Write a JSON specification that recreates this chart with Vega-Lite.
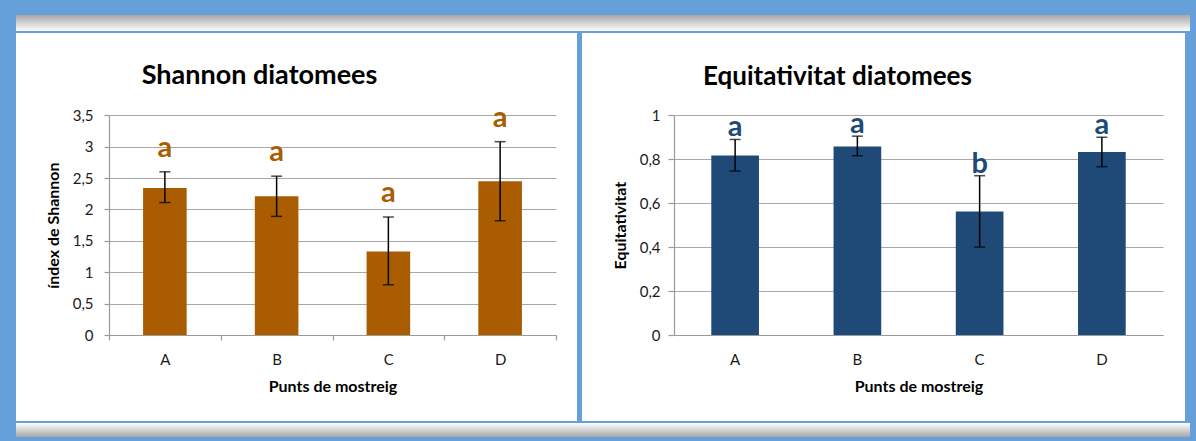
{
  "$schema": "https://vega.github.io/schema/vega-lite/v6.json",
  "background": "#65a0da",
  "padding": {"left": 16, "top": 15, "right": 6, "bottom": 4},
  "spacing": 2,
  "datasets": {
    "shannon": [
      {"punt": "A", "mitjana": 2.34, "inf": 2.11, "sup": 2.6, "lletra": "a"},
      {"punt": "B", "mitjana": 2.21, "inf": 1.89, "sup": 2.53, "lletra": "a"},
      {"punt": "C", "mitjana": 1.33, "inf": 0.8, "sup": 1.88, "lletra": "a"},
      {"punt": "D", "mitjana": 2.45, "inf": 1.82, "sup": 3.08, "lletra": "a"}
    ],
    "equitativitat": [
      {"punt": "A", "mitjana": 0.817, "inf": 0.746, "sup": 0.89, "lletra": "a"},
      {"punt": "B", "mitjana": 0.858, "inf": 0.816, "sup": 0.905, "lletra": "a"},
      {"punt": "C", "mitjana": 0.562, "inf": 0.4, "sup": 0.725, "lletra": "b"},
      {"punt": "D", "mitjana": 0.833, "inf": 0.766, "sup": 0.9, "lletra": "a"}
    ],
    "buit": []
  },
  "vconcat": [
    {
      "width": 1174,
      "height": 16,
      "view": {"stroke": null, "fill": {"gradient": "linear", "x1": 0, "y1": 0, "x2": 0, "y2": 1, "stops": [{"offset": 0, "color": "#a6a6a6"}, {"offset": 1, "color": "#ffffff"}]}},
      "data": {"name": "buit"},
      "mark": {"type": "rule"},
      "encoding": {}
    },
    {
      "spacing": 5,
      "hconcat": [
        {
          "width": 561,
          "height": 388,
          "view": {"fill": "#ffffff", "stroke": null},
          "title": {"text": "Shannon diatomees", "frame": "group", "anchor": "middle", "offset": -78, "dx": -37, "baseline": "alphabetic", "fontSize": 27, "font": "Lato", "fontWeight": "bold", "color": "#000000"},
          "data": {"name": "shannon"},
          "encoding": {
            "x": {
              "field": "punt", "type": "nominal",
              "scale": {"range": [93, 540], "paddingInner": 0, "paddingOuter": 0},
              "axis": {"title": "Punts de mostreig", "labelAngle": 0, "offset": -86, "tickBand": "extent", "ticks": true, "tickSize": 5, "labelPadding": 12, "titlePadding": 11, "grid": false}
            }
          },
          "layer": [
            {
              "mark": {"type": "bar", "color": "#a95c00", "width": {"band": 0.39}},
              "encoding": {
                "y": {
                  "field": "mitjana", "type": "quantitative", "title": "índex de Shannon",
                  "scale": {"domain": [0, 3.5], "range": [302, 82.3], "nice": false},
                  "axis": {"values": [0, 0.5, 1, 1.5, 2, 2.5, 3, 3.5], "offset": -93, "tickSize": 5, "grid": true, "labelPadding": 11, "titlePadding": 11, "labelExpr": "replace(format(datum.value, '.1~f'), '.', ',')"}
                }
              }
            },
            {
              "mark": {"type": "errorbar", "color": "#000000", "ticks": {"size": 11, "color": "#000000", "thickness": 1.5}, "rule": {"strokeWidth": 1.5}},
              "encoding": {
                "y": {"field": "inf", "type": "quantitative", "title": "índex de Shannon"},
                "y2": {"field": "sup"}
              }
            },
            {
              "mark": {"type": "text", "color": "#a95c00", "font": "Lato", "fontWeight": "bold", "fontSize": 29, "baseline": "alphabetic", "dy": -15},
              "encoding": {
                "y": {"field": "sup", "type": "quantitative", "title": "índex de Shannon"},
                "text": {"field": "lletra"}
              }
            }
          ]
        },
        {
          "width": 603,
          "height": 388,
          "view": {"fill": "#ffffff", "stroke": null},
          "title": {"text": "Equitativitat diatomees", "frame": "group", "anchor": "middle", "offset": -78, "dx": -46, "baseline": "alphabetic", "fontSize": 26, "font": "Lato", "fontWeight": "bold", "color": "#000000"},
          "data": {"name": "equitativitat"},
          "encoding": {
            "x": {
              "field": "punt", "type": "nominal",
              "scale": {"range": [92, 581], "paddingInner": 0, "paddingOuter": 0},
              "axis": {"title": "Punts de mostreig", "labelAngle": 0, "offset": -86, "ticks": false, "labelPadding": 17, "titlePadding": 11, "grid": false}
            }
          },
          "layer": [
            {
              "mark": {"type": "bar", "color": "#1f4a78", "width": {"band": 0.39}},
              "encoding": {
                "y": {
                  "field": "mitjana", "type": "quantitative", "title": "Equitativitat",
                  "scale": {"domain": [0, 1], "range": [302, 82.3], "nice": false},
                  "axis": {"values": [0, 0.2, 0.4, 0.6, 0.8, 1], "offset": -92, "tickSize": 6, "grid": true, "labelPadding": 8, "titlePadding": 11, "labelExpr": "replace(format(datum.value, '.1~f'), '.', ',')"}
                }
              }
            },
            {
              "mark": {"type": "errorbar", "color": "#000000", "ticks": {"size": 11, "color": "#000000", "thickness": 1.5}, "rule": {"strokeWidth": 1.5}},
              "encoding": {
                "y": {"field": "inf", "type": "quantitative", "title": "Equitativitat"},
                "y2": {"field": "sup"}
              }
            },
            {
              "mark": {"type": "text", "color": "#1f4a78", "font": "Lato", "fontWeight": "bold", "fontSize": 29, "baseline": "alphabetic", "dy": -3},
              "encoding": {
                "y": {"field": "sup", "type": "quantitative", "title": "Equitativitat"},
                "text": {"field": "lletra"}
              }
            }
          ]
        }
      ]
    },
    {
      "width": 1174,
      "height": 14,
      "view": {"stroke": null, "fill": {"gradient": "linear", "x1": 0, "y1": 0, "x2": 0, "y2": 1, "stops": [{"offset": 0, "color": "#ffffff"}, {"offset": 1, "color": "#a6a6a6"}]}},
      "data": {"name": "buit"},
      "mark": {"type": "rule"},
      "encoding": {}
    }
  ],
  "config": {
    "font": "Lato",
    "view": {"stroke": null},
    "axis": {
      "labelFont": "Lato", "labelFontSize": 15, "labelColor": "#1a1a1a",
      "titleFont": "Lato", "titleFontSize": 16, "titleFontWeight": "bold", "titleColor": "#000000",
      "domainColor": "#9a9a9a", "domainWidth": 1.2,
      "tickColor": "#9a9a9a", "tickWidth": 1.2,
      "gridColor": "#a8a8a8", "gridWidth": 1.2
    }
  }
}
